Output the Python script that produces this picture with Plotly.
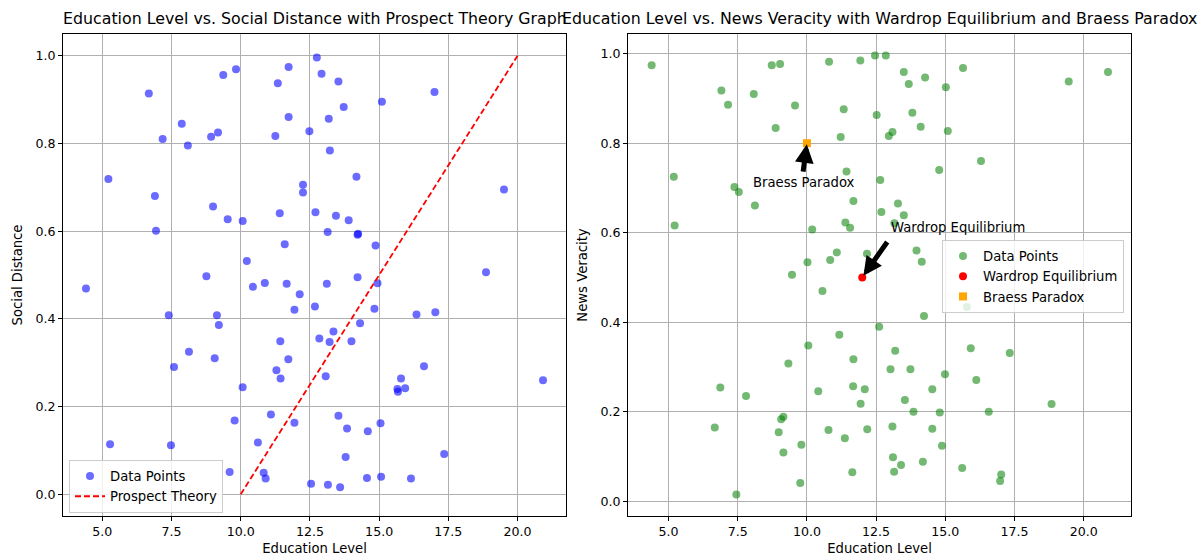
import plotly.graph_objects as go

# ---- Left panel: education level vs. social distance ----
edu_sd = [
    6.68, 9.37, 9.83, 11.73, 12.75, 11.34, 12.92, 11.73, 7.87, 7.18,
    8.93, 9.18, 8.09, 11.25, 12.48, 5.22, 6.90, 6.94, 9.00, 9.53,
    10.07, 11.41, 12.25, 12.25, 12.70, 11.59, 10.22, 8.76, 13.53, 17.00,
    15.10, 13.72, 13.18, 13.22, 14.18, 19.51, 13.44, 13.90, 13.14, 14.22,
    14.24, 14.87, 18.86, 4.41, 10.44, 10.87, 11.66, 12.13, 11.94, 12.68,
    7.40, 9.14, 9.21, 12.84, 11.43, 8.13, 9.06, 11.72, 7.59, 11.29,
    11.44, 10.07, 11.09, 11.94, 9.78, 5.28, 7.48, 10.62, 9.60, 10.83,
    10.90, 12.54, 14.22, 13.11, 14.94, 14.83, 16.35, 17.03, 14.31, 13.35,
    13.21, 14.00, 16.62, 13.07, 15.79, 20.92, 15.94, 15.66, 15.68, 13.53,
    13.84, 15.05, 14.59, 17.35, 13.79, 13.15, 13.59, 14.56, 15.07, 16.15,
]
social_distance = [
    0.914, 0.956, 0.969, 0.974, 0.996, 0.937, 0.959, 0.860, 0.845, 0.810,
    0.815, 0.825, 0.795, 0.817, 0.828, 0.719, 0.680, 0.601, 0.656, 0.627,
    0.623, 0.641, 0.706, 0.688, 0.643, 0.570, 0.532, 0.497, 0.941, 0.917,
    0.895, 0.883, 0.856, 0.784, 0.724, 0.695, 0.635, 0.625, 0.598, 0.592,
    0.594, 0.567, 0.506, 0.469, 0.473, 0.482, 0.480, 0.456, 0.421, 0.428,
    0.408, 0.408, 0.386, 0.355, 0.349, 0.325, 0.310, 0.308, 0.290, 0.283,
    0.264, 0.244, 0.182, 0.163, 0.168, 0.114, 0.112, 0.118, 0.051, 0.049,
    0.036, 0.024, 0.495, 0.480, 0.481, 0.423, 0.410, 0.415, 0.390, 0.371,
    0.347, 0.349, 0.292, 0.269, 0.264, 0.260, 0.242, 0.240, 0.234, 0.179,
    0.150, 0.162, 0.144, 0.092, 0.085, 0.022, 0.016, 0.037, 0.040, 0.036,
]
prospect_x = [10, 20]
prospect_y = [0, 1]

# ---- Right panel: education level vs. news veracity ----
edu_nv = [
    4.39, 8.73, 9.03, 10.80, 11.93, 12.46, 12.85, 6.91, 7.15, 8.08,
    9.57, 11.33, 12.52, 8.87, 11.22, 11.43, 12.65, 5.19, 7.38, 7.54,
    8.12, 11.68, 12.69, 5.22, 10.19, 11.39, 11.56, 11.08, 10.02, 10.84,
    12.17, 9.46, 13.50, 14.27, 13.68, 15.64, 15.02, 19.46, 20.88, 13.81,
    14.11, 15.09, 13.09, 12.96, 16.29, 14.78, 13.29, 13.50, 13.16, 13.96,
    14.15, 10.56, 12.61, 11.17, 10.05, 9.33, 11.68, 6.87, 7.80, 10.41,
    11.67, 12.09, 11.94, 9.15, 9.07, 6.67, 8.98, 10.78, 12.18, 11.37,
    9.80, 9.15, 11.64, 9.76, 7.45, 15.78, 14.23, 13.19, 15.92, 17.33,
    13.02, 13.74, 14.99, 16.12, 14.53, 13.54, 13.85, 14.80, 16.57, 18.84,
    13.09, 14.53, 14.88, 13.11, 13.40, 14.19, 13.15, 15.61, 17.02, 16.98,
]
news_veracity = [
    0.974, 0.974, 0.977, 0.982, 0.985, 0.996, 0.996, 0.918, 0.886, 0.910,
    0.884, 0.876, 0.863, 0.834, 0.814, 0.737, 0.718, 0.725, 0.702, 0.691,
    0.661, 0.671, 0.646, 0.616, 0.607, 0.623, 0.611, 0.556, 0.534, 0.539,
    0.553, 0.506, 0.959, 0.947, 0.932, 0.968, 0.925, 0.938, 0.959, 0.868,
    0.837, 0.827, 0.825, 0.816, 0.760, 0.740, 0.665, 0.639, 0.621, 0.560,
    0.535, 0.470, 0.390, 0.372, 0.348, 0.308, 0.317, 0.254, 0.235, 0.246,
    0.257, 0.250, 0.218, 0.189, 0.183, 0.165, 0.154, 0.159, 0.161, 0.141,
    0.126, 0.109, 0.065, 0.041, 0.015, 0.434, 0.414, 0.336, 0.342, 0.331,
    0.295, 0.295, 0.284, 0.271, 0.250, 0.226, 0.200, 0.198, 0.200, 0.217,
    0.167, 0.162, 0.124, 0.098, 0.081, 0.088, 0.066, 0.074, 0.060, 0.045,
]
wardrop_x, wardrop_y = [12], [0.5]
braess_x, braess_y = [10], [0.8]

x_ticks = [5, 7.5, 10, 12.5, 15, 17.5, 20]
y_ticks_left = [0.0, 0.2, 0.4, 0.6, 0.8, 1.0]
y_ticks_right = [0.0, 0.2, 0.4, 0.6, 0.8, 1.0]

W, H = 1200, 556
FONT = "DejaVu Sans"
TICK_SIZE = 12.6
TEXT_SIZE = 13.2
TITLE_SIZE = 15.8


def px_x(p):
    return p / W


def px_y(p):
    return (H - p) / H


fig = go.Figure()

fig.add_trace(go.Scatter(
    x=edu_sd, y=social_distance, mode="markers", name="Data Points",
    marker=dict(color="blue", size=8, opacity=0.58, line=dict(width=0)),
    xaxis="x", yaxis="y", legend="legend",
))
fig.add_trace(go.Scatter(
    x=prospect_x, y=prospect_y, mode="lines", name="Prospect Theory",
    line=dict(color="red", width=1.8, dash="6px,3px"),
    xaxis="x", yaxis="y", legend="legend",
))

fig.add_trace(go.Scatter(
    x=edu_nv, y=news_veracity, mode="markers", name="Data Points",
    marker=dict(color="green", size=8, opacity=0.55, line=dict(width=0)),
    xaxis="x2", yaxis="y2", legend="legend2",
))
fig.add_trace(go.Scatter(
    x=wardrop_x, y=wardrop_y, mode="markers", name="Wardrop Equilibrium",
    marker=dict(color="red", size=8, symbol="circle"),
    xaxis="x2", yaxis="y2", legend="legend2",
))
fig.add_trace(go.Scatter(
    x=braess_x, y=braess_y, mode="markers", name="Braess Paradox",
    marker=dict(color="orange", size=8, symbol="square"),
    xaxis="x2", yaxis="y2", legend="legend2",
))

axis_common = dict(
    showgrid=True, gridcolor="#b0b0b0", gridwidth=1,
    showline=True, linecolor="black", linewidth=1, mirror=True,
    ticks="outside", ticklen=4, tickwidth=1, tickcolor="black",
    zeroline=False, tickfont=dict(family=FONT, size=TICK_SIZE, color="black"),
    tickformat=".1f",
)

y_dom = [px_y(516), px_y(34)]
label_font = dict(family=FONT, size=TEXT_SIZE, color="black")

fig.update_layout(
    width=W, height=H,
    margin=dict(l=0, r=0, t=0, b=0),
    paper_bgcolor="white", plot_bgcolor="white",
    font=dict(family=FONT, size=TEXT_SIZE, color="black"),
    xaxis=dict(axis_common, domain=[px_x(63), px_x(566)], range=[3.58, 21.75],
               tickvals=x_ticks, anchor="y",
               title=dict(text="Education Level", standoff=5, font=label_font)),
    yaxis=dict(axis_common, domain=y_dom, range=[-0.0495, 1.0495],
               tickvals=y_ticks_left, anchor="x",
               title=dict(text="Social Distance", standoff=9, font=label_font)),
    xaxis2=dict(axis_common, domain=[px_x(628), px_x(1131)], range=[3.535, 21.71],
                tickvals=x_ticks, anchor="y2",
                title=dict(text="Education Level", standoff=5, font=label_font)),
    yaxis2=dict(axis_common, domain=y_dom, range=[-0.033, 1.044],
                tickvals=y_ticks_right, anchor="x2",
                title=dict(text="News Veracity", standoff=9, font=label_font)),
    legend=dict(
        x=px_x(69), y=px_y(513), xanchor="left", yanchor="bottom",
        bgcolor="rgba(255,255,255,0.8)", bordercolor="#cccccc", borderwidth=1,
        font=dict(family=FONT, size=TEXT_SIZE), tracegroupgap=0,
    ),
    legend2=dict(
        x=px_x(942), y=px_y(240), xanchor="left", yanchor="top",
        bgcolor="rgba(255,255,255,0.8)", bordercolor="#cccccc", borderwidth=1,
        font=dict(family=FONT, size=TEXT_SIZE), tracegroupgap=0,
    ),
    showlegend=True,
)

annotations = [
    # panel titles
    dict(text="Education Level vs. Social Distance with Prospect Theory Graph",
         x=px_x((63 + 566) / 2), y=px_y(30), xref="paper", yref="paper",
         xanchor="center", yanchor="bottom", showarrow=False,
         font=dict(family=FONT, size=TITLE_SIZE, color="black")),
    dict(text="Education Level vs. News Veracity with Wardrop Equilibrium and Braess Paradox",
         x=px_x((628 + 1131) / 2), y=px_y(30), xref="paper", yref="paper",
         xanchor="center", yanchor="bottom", showarrow=False,
         font=dict(family=FONT, size=TITLE_SIZE, color="black")),
    # arrows pointing at the highlighted points
    dict(x=braess_x[0], y=braess_y[0], xref="x2", yref="y2", text="",
         showarrow=True, arrowhead=2, arrowwidth=5, arrowsize=0.75,
         arrowcolor="black", ax=-4, ay=30, standoff=1),
    dict(x=wardrop_x[0], y=wardrop_y[0], xref="x2", yref="y2", text="",
         showarrow=True, arrowhead=2, arrowwidth=5, arrowsize=0.75,
         arrowcolor="black", ax=26, ay=-37, standoff=2),
    # annotation labels
    dict(text="Braess Paradox", x=8, y=0.7, xref="x2", yref="y2",
         xanchor="left", yanchor="bottom", yshift=-4, xshift=-1,
         showarrow=False, font=label_font),
    dict(text="Wardrop Equilibrium", x=13, y=0.6, xref="x2", yref="y2",
         xanchor="left", yanchor="bottom", yshift=-4, xshift=-1,
         showarrow=False, font=label_font),
]
fig.update_layout(annotations=annotations)

fig.write_html("out.html")
